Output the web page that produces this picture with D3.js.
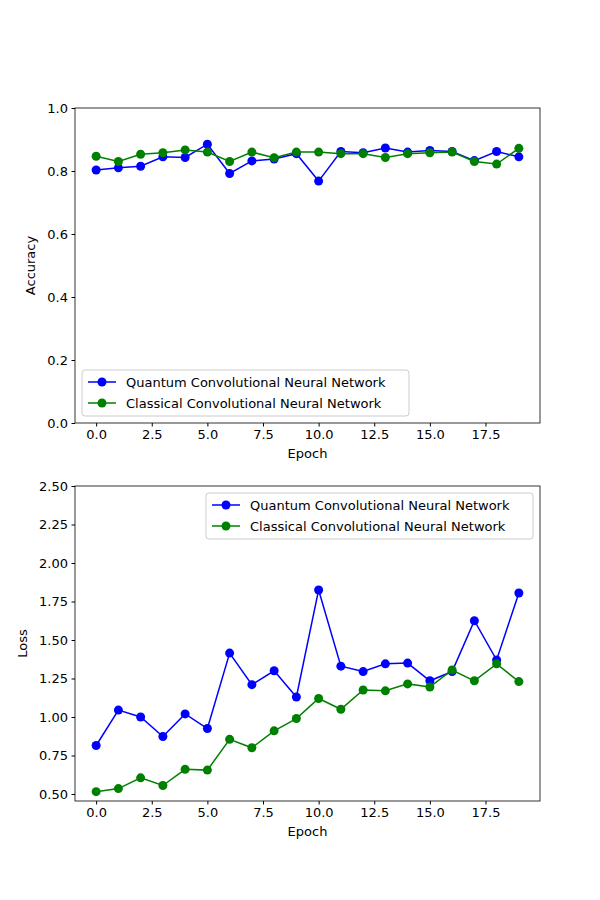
<!DOCTYPE html><html><head><meta charset="utf-8"><script src="https://cdn.jsdelivr.net/npm/d3@7"></script>
<style>body{margin:0;background:#fff}text{font-family:"DejaVu Sans",sans-serif}</style></head><body><svg id="c" width="600" height="900"></svg>
<script>
const epochs=d3.range(20);
const accQ=[0.803,0.810,0.815,0.845,0.843,0.885,0.792,0.832,0.838,0.855,0.768,0.862,0.858,0.873,0.860,0.865,0.862,0.833,0.862,0.845];
const accC=[0.847,0.830,0.853,0.858,0.867,0.860,0.830,0.860,0.842,0.860,0.860,0.855,0.855,0.843,0.855,0.858,0.860,0.830,0.822,0.872];
const lossQ=[0.815,1.045,1.00,0.873,1.02,0.925,1.415,1.21,1.30,1.13,1.825,1.33,1.295,1.345,1.35,1.235,1.295,1.625,1.37,1.805];
const lossC=[0.515,0.535,0.605,0.555,0.66,0.655,0.855,0.80,0.91,0.99,1.12,1.05,1.175,1.17,1.215,1.195,1.305,1.235,1.345,1.23];
const xTicks=[0,2.5,5,7.5,10,12.5,15,17.5];
const accTicks=[0,0.2,0.4,0.6,0.8,1.0];
const lossTicks=[0.5,0.75,1.0,1.25,1.5,1.75,2.0,2.25,2.5];
const names=["Quantum Convolutional Neural Network","Classical Convolutional Neural Network"];
const colors=["#0000ff","#008000"];
const svg=d3.select("#c");
function panel(top,yDom,yTicks,fmt,ylabel,series,legendPos,labOff){
  const L=75,R=540,T=top,B=top+315;
  const x=d3.scaleLinear().domain([-0.95,19.95]).range([L,R]);
  const y=d3.scaleLinear().domain(yDom).range([B,T]);
  const g=svg.append("g");
  const xa=g.append("g").attr("transform",`translate(0,${B})`).call(d3.axisBottom(x).tickValues(xTicks).tickFormat(d3.format(".1f")).tickSize(3.5).tickPadding(3.5));
  const ya=g.append("g").attr("transform",`translate(${L},0)`).call(d3.axisLeft(y).tickValues(yTicks).tickFormat(fmt).tickSize(3.5).tickPadding(3.5));
  [xa,ya].forEach(a=>{a.select(".domain").remove();a.selectAll("text").attr("font-size",13).attr("fill","#000").style("font-family","DejaVu Sans");a.selectAll("line").attr("stroke","#000");});
  series.forEach((s,i)=>{
    g.append("path").datum(s).attr("fill","none").attr("stroke",colors[i]).attr("stroke-width",1.5)
      .attr("d",d3.line().x((d,j)=>x(epochs[j])).y(d=>y(d)));
    g.selectAll(null).data(s).enter().append("circle").attr("cx",(d,j)=>x(epochs[j])).attr("cy",d=>y(d)).attr("r",4.5).attr("fill",colors[i]);
  });
  g.append("rect").attr("x",L).attr("y",T).attr("width",R-L).attr("height",B-T).attr("fill","none").attr("stroke","#000").attr("stroke-width",0.8);
  g.append("text").attr("x",(L+R)/2).attr("y",B+35).attr("text-anchor","middle").attr("font-size",13).text("Epoch");
  g.append("text").attr("transform",`translate(${L-labOff},${(T+B)/2}) rotate(-90)`).attr("text-anchor","middle").attr("font-size",13).text(ylabel);
  const lw=327,lh=46;
  const lx=legendPos==="ll"?L+7:R-7-lw, ly=legendPos==="ll"?B-7-lh:T+7;
  const lg=g.append("g").attr("transform",`translate(${lx},${ly})`);
  lg.append("rect").attr("width",lw).attr("height",lh).attr("rx",3).attr("fill","#fff").attr("fill-opacity",0.8).attr("stroke","#ccc");
  names.forEach((n,i)=>{
    const yy=12+i*21;
    lg.append("line").attr("x1",6).attr("x2",34).attr("y1",yy).attr("y2",yy).attr("stroke",colors[i]).attr("stroke-width",1.5);
    lg.append("circle").attr("cx",20).attr("cy",yy).attr("r",4.5).attr("fill",colors[i]);
    lg.append("text").attr("x",44).attr("y",yy+4.5).attr("font-size",13).text(n);
  });
}
panel(108,[0,1],accTicks,d3.format(".1f"),"Accuracy",[accQ,accC],"ll",40);
panel(486,[0.4545,2.5],lossTicks,d3.format(".2f"),"Loss",[lossQ,lossC],"ur",48);
</script></body></html>
